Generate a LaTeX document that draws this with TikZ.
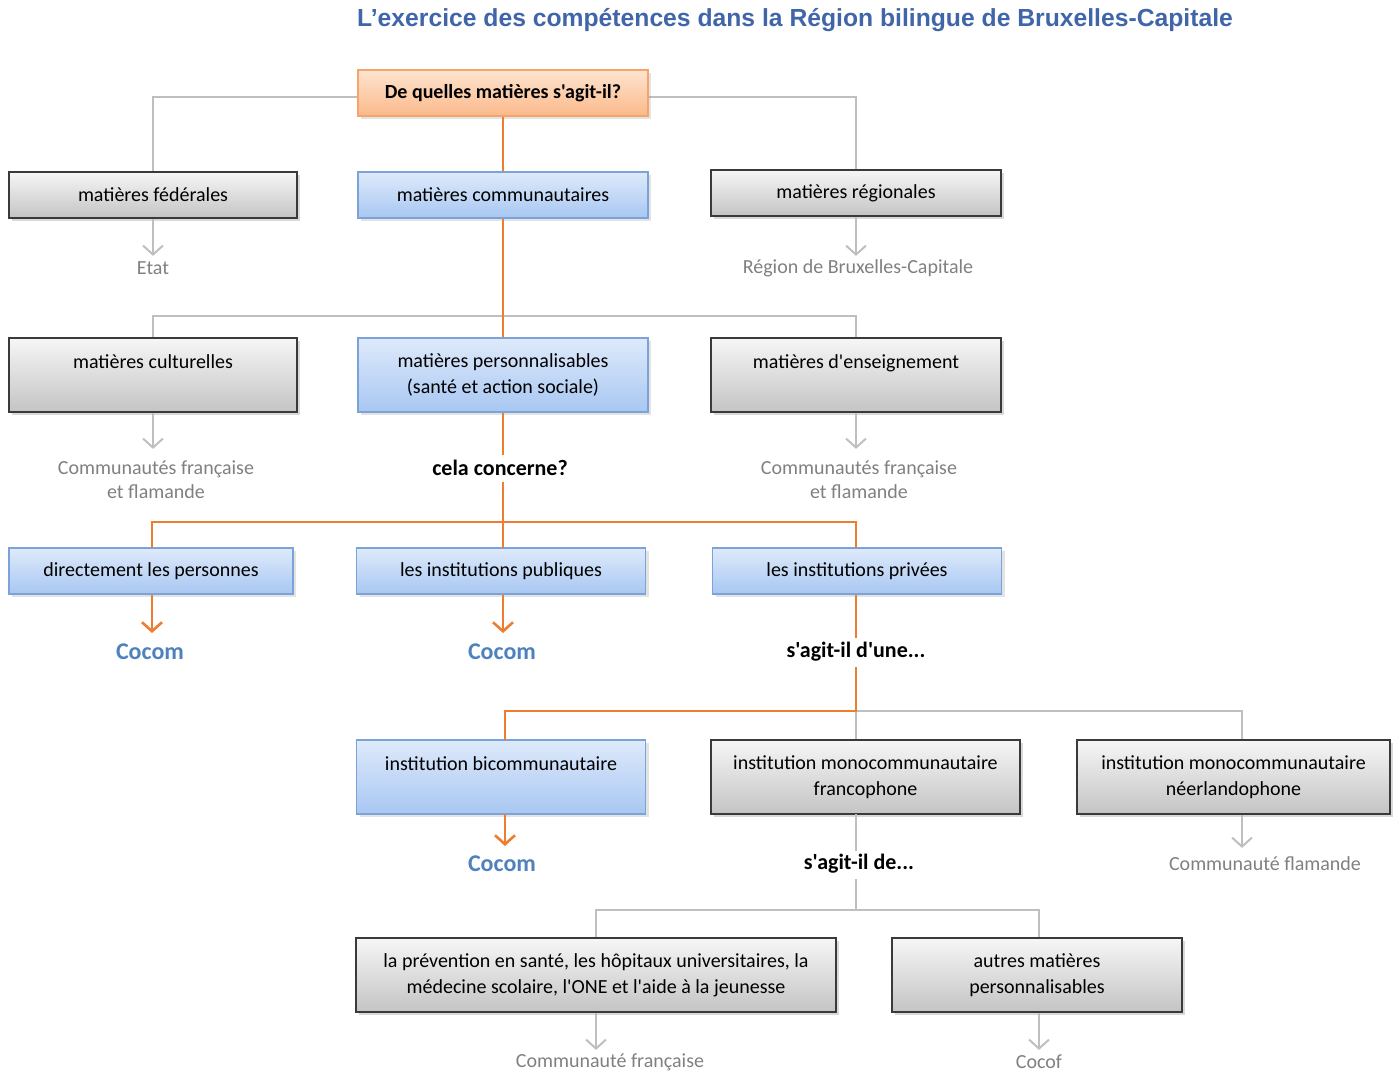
\documentclass[tikz,border=0pt]{standalone}
\usepackage{fontspec}
\setmainfont{Carlito}[Ligatures=TeXOff]
\newfontfamily\titlefont{Liberation Sans}
\usetikzlibrary{arrows.meta,shadows}
\definecolor{orline}{HTML}{ED7D31}
\definecolor{grline}{HTML}{BFBFBF}
\definecolor{labgray}{HTML}{808080}
\definecolor{cocomblue}{HTML}{4F81BD}
\definecolor{titleblue}{HTML}{4065A8}
\definecolor{ortop}{HTML}{FDE4D0}
\definecolor{orbot}{HTML}{FBB98A}
\definecolor{orborder}{HTML}{F6A46C}
\definecolor{bltop}{HTML}{DEEAFB}
\definecolor{blbot}{HTML}{A8C7F2}
\definecolor{blborder}{HTML}{7BA3D6}
\definecolor{grtop}{HTML}{F6F6F6}
\definecolor{grbot}{HTML}{C4C4C4}
\definecolor{grborder}{HTML}{3A3A3A}
\tikzset{
  box/.style={align=center, inner sep=2pt, font=\fontsize{10}{13}\selectfont, minimum height=23pt},
  graybox/.style={box, draw=grborder, line width=0.9pt, top color=grtop, bottom color=grbot,
     drop shadow={shadow xshift=1.5pt, shadow yshift=-1.5pt, opacity=0.3}},
  bluebox/.style={box, draw=blborder, line width=0.7pt, top color=bltop, bottom color=blbot,
     drop shadow={shadow xshift=1.5pt, shadow yshift=-1.5pt, opacity=0.22}},
  orangebox/.style={box, draw=orborder, line width=0.7pt, top color=ortop, bottom color=orbot,
     font=\fontsize{10}{13}\selectfont\bfseries,
     drop shadow={shadow xshift=1.5pt, shadow yshift=-1.5pt, opacity=0.22}},
  lbl/.style={text=labgray, align=center, inner sep=2pt, font=\fontsize{10}{12}\selectfont},
  cocom/.style={text=cocomblue, inner sep=2pt, font=\fontsize{12}{14}\selectfont\bfseries},
  question/.style={text=black, inner sep=3pt, font=\fontsize{11}{13}\selectfont\bfseries},
  gline/.style={draw=grline, line width=1pt},
  oline/.style={draw=orline, line width=1.3pt},
  garrow/.style={gline, -{Straight Barb[length=4.5pt,width=10pt]}},
  oarrow/.style={oline, -{Straight Barb[length=4.5pt,width=10pt]}},
}
\begin{document}
\begin{tikzpicture}[x=0.5pt,y=-0.5pt]
\useasboundingbox (0,0) rectangle (1397,1072);
\node[text=titleblue, font=\titlefont\bfseries\fontsize{12.35}{14}\selectfont] (title) at (795,20)
  {L’exercice des compétences dans la Région bilingue de Bruxelles-Capitale};

% junction coordinates
\coordinate (j1) at (503,316);
\coordinate (j2) at (503,522);
\coordinate (j3) at (856,711);
\coordinate (j4) at (856,910);

% gray connectors first
\draw[gline] (496,97) -| (153,172);
\draw[gline] (510,97) -| (856,170);
\draw[gline] (153,338) |- (j1) -| (856,338);
\draw[gline] (j3) -- (j3 |- 0,740);
\draw[gline] (j3) -| (1242,740);
\draw[gline] (j4) -| (596,938);
\draw[gline] (j4) -| (1039,938);

% nodes
\node[orangebox, minimum width=145pt] (top) at (503,93) {De quelles matières s'agit-il?};
\node[graybox, minimum width=144pt] (fed) at (153,195) {matières fédérales};
\node[bluebox, minimum width=145pt] (comm) at (503,195) {matières communautaires};
\node[graybox, minimum width=145pt] (reg) at (856,193) {matières régionales};
\node[lbl] (etat) at (153,268) {Etat};
\node[lbl] (rbc) at (858,268) {Région de Bruxelles-Capitale};

\node[graybox, minimum width=144pt, minimum height=37pt] (cult) at (153,375) {matières culturelles\\~};
\node[bluebox, minimum width=145pt, minimum height=37pt] (perso) at (503,375) {matières personnalisables\\(santé et action sociale)};
\node[graybox, minimum width=145pt, minimum height=37pt] (ens) at (856,375) {matières d'enseignement\\~};
\node[lbl] (cf1) at (156,480) {Communautés française\\et flamande};
\node[question] (concerne) at (500,468) {cela concerne?};
\node[lbl] (cf2) at (859,480) {Communautés française\\et flamande};

\node[bluebox, minimum width=142pt] (dir) at (151,571) {directement les personnes};
\node[bluebox, minimum width=144.5pt] (pub) at (501,571) {les institutions publiques};
\node[bluebox, minimum width=144.5pt] (priv) at (857,571) {les institutions privées};
\node[cocom] (cocom1) at (150,652) {Cocom};
\node[cocom] (cocom2) at (502,652) {Cocom};
\node[question] (dune) at (856,652) {s'agit-il d'une...};

\node[bluebox, minimum width=144.5pt, minimum height=37pt] (bicom) at (501,777) {institution bicommunautaire\\~};
\node[graybox, minimum width=154.5pt, minimum height=37pt] (franco) at (865.5,777) {institution monocommunautaire\\francophone};
\node[graybox, minimum width=156.5pt, minimum height=37pt] (neer) at (1233.5,777) {institution monocommunautaire\\néerlandophone};
\node[cocom] (cocom3) at (502,864) {Cocom};
\node[question] (de) at (859,864) {s'agit-il de...};
\node[lbl] (cfl) at (1265,864) {Communauté flamande};

\node[graybox, minimum width=240pt, minimum height=37pt] (prev) at (596,975) {la prévention en santé, les hôpitaux universitaires, la\\médecine scolaire, l'ONE et l'aide à la jeunesse};
\node[graybox, minimum width=145pt, minimum height=37pt] (autres) at (1037,975) {autres matières\\personnalisables};
\node[lbl] (cfr) at (610,1062) {Communauté française};
\node[lbl] (cocof) at (1039,1062) {Cocof};

% gray arrows
\draw[garrow] (fed.south) -- ++(0,37);
\draw[garrow] (reg.south) -- ++(0,39);
\draw[garrow] (cult.south) -- ++(0,36);
\draw[garrow] (ens.south) -- ++(0,36);
\draw[gline] (856,814) -- (856,851);
\draw[gline] (856,879) -- (j4);
\draw[garrow] (neer.south -| 1242,0) -- ++(0,33);
\draw[garrow] (prev.south) -- ++(0,37);
\draw[garrow] (autres.south -| 1039,0) -- ++(0,37);

% orange connectors
\draw[oline] (top.south) -- (comm.north);
\draw[oline] (comm.south) -- (perso.north);
\draw[oline] (perso.south) -- (503,455);
\draw[oline] (503,482) -- (j2);
\draw[oline] (j2) -- (503,548);
\draw[oline] (152,548) |- (j2) -| (856,548);
\draw[oarrow] (152,594.5) -- (152,633);
\draw[oarrow] (503,594.5) -- (503,633);
\draw[oline] (856,594.5) -- (856,638);
\draw[oline] (856,667) -- (j3) -| (505,740);
\draw[oarrow] (505,814) -- (505,846);
\end{tikzpicture}
\end{document}
